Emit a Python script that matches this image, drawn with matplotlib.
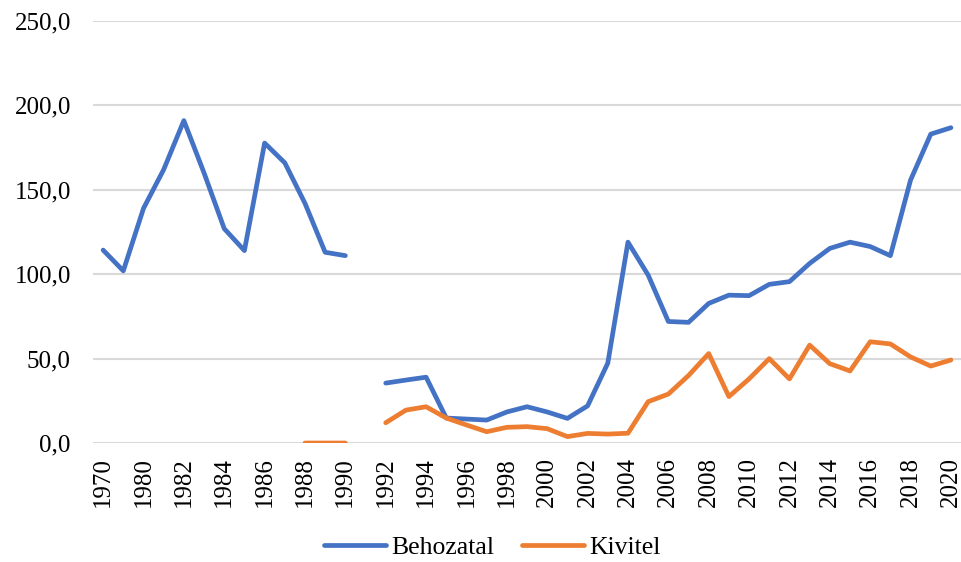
import numpy as np
import matplotlib
matplotlib.use('Agg')
import matplotlib.pyplot as plt

# Évek (kategóriák)
evek = ['1970', '1975'] + [str(y) for y in range(1980, 2021)]

# Behozatal (1991: nincs adat)
behozatal = [114.3, 102.0, 139.0, 162.0, 191.0, 160.0, 127.0, 114.0, 177.7, 166.0,
             142.0, 113.0, 111.0, None, 35.5, 37.3, 39.0, 14.8, 14.2, 13.6,
             18.4, 21.5, 18.4, 14.6, 22.0, 47.3, 119.0, 99.5, 72.0, 71.5,
             82.7, 87.6, 87.3, 94.0, 95.6, 106.4, 115.3, 119.0, 116.4, 111.0,
             155.8, 183.0, 186.8]

# Kivitel
kivitel = [None, None, None, None, None, None, None, None, None, None,
           0.0, 0.0, 0.0, None, 12.0, 19.5, 21.5, 14.8, 10.7, 6.7,
           9.3, 9.7, 8.5, 3.8, 5.7, 5.3, 5.8, 24.5, 29.0, 40.0,
           53.0, 27.5, 38.0, 50.0, 38.0, 58.0, 47.0, 42.7, 60.0, 58.7,
           51.0, 45.6, 49.2]

plt.rcParams['font.family'] = ['Liberation Serif', 'DejaVu Serif']

fig = plt.figure(figsize=(9.62, 5.62), dpi=100)
ax = fig.add_axes([0.0967, 0.2117, 0.9023, 0.7509])

x = np.arange(len(evek))
b = np.array([np.nan if v is None else v for v in behozatal])
k = np.array([np.nan if v is None else v for v in kivitel])

ax.plot(x, b, color='#4472C4', lw=3.4, solid_capstyle='round', solid_joinstyle='round', label='Behozatal', zorder=3)
ax.plot(x, k, color='#ED7D31', lw=3.4, solid_capstyle='round', solid_joinstyle='round', label='Kivitel', zorder=3)

ax.set_xlim(-0.5, len(evek) - 0.5)
ax.set_ylim(0, 250)
ax.set_yticks(np.arange(0, 251, 50))
ax.set_yticklabels([f'{v:.1f}'.replace('.', ',') for v in np.arange(0, 251, 50)])
ax.set_xticks(x[::2])
ax.set_xticklabels(evek[::2], rotation=90)

ax.grid(axis='y', color='#d9d9d9', lw=1.5)
ax.set_axisbelow(True)
for s in ax.spines.values():
    s.set_visible(False)
ax.tick_params(axis='both', length=0, labelsize=18, colors='#000000')
ax.tick_params(axis='y', pad=16)
ax.tick_params(axis='x', pad=10)

fig.legend(loc='center', bbox_to_anchor=(0.512, 0.025), ncol=2, frameon=False,
           fontsize=18.5, handlelength=2.4, handletextpad=0.2, columnspacing=1.1)

fig.savefig('out.png', dpi=100)
